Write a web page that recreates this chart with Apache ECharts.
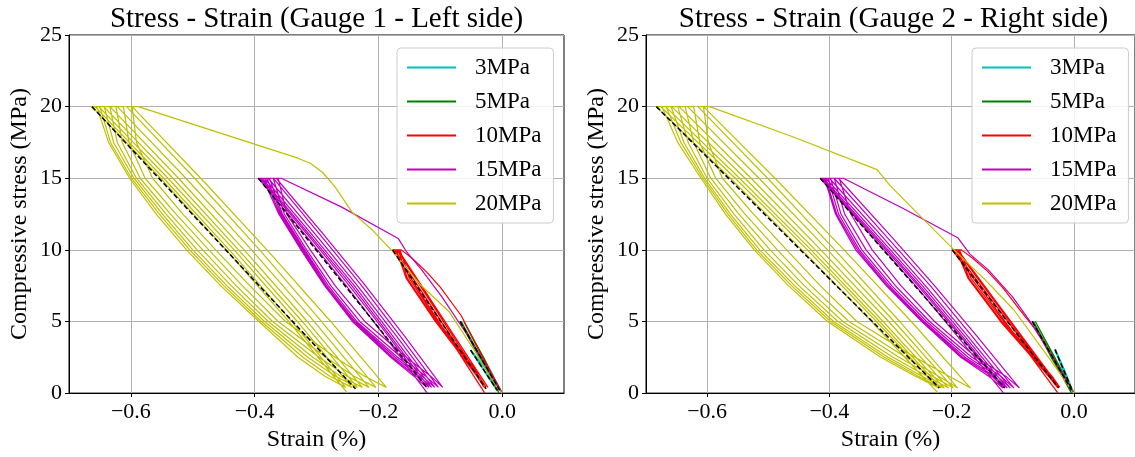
<!DOCTYPE html>
<html><head><meta charset="utf-8">
<script src="https://cdn.jsdelivr.net/npm/echarts@6/dist/echarts.min.js"></script>
<style>html,body{margin:0;padding:0;background:#fff}#c{width:1135px;height:457px}</style>
</head><body><div id="c"></div><script>
// ---------- data: [strain %, stress MPa] ----------
const seriesNames = ['3MPa','5MPa','10MPa','15MPa','20MPa'];
const xTickValues = [-0.6,-0.4,-0.2,0.0];
const titles = ['Stress - Strain (Gauge 1 - Left side)','Stress - Strain (Gauge 2 - Right side)'];

// Gauge 1 (left)
const g1_3 = [[0,0],[-0.025,1.6],[-0.050,3.0],[-0.008,0.25],[-0.030,1.7],[-0.051,3.0],[-0.009,0.2]];
const g1_5 = [[0,0],[-0.030,2.5],[-0.062,5.0],[-0.004,0.2],[-0.035,2.5],[-0.066,5.0],[-0.005,0.2],[-0.037,2.5],[-0.068,5.0],[-0.005,0.0]];
const g1_10 = [[0,0],[-0.030,2.4],[-0.066,5.4],[-0.100,7.4],[-0.123,8.5],[-0.145,9.4],[-0.163,10.0],[-0.168,10.0],
  [-0.023,0.4],[-0.035,1.2],[-0.104,5.0],[-0.150,8.0],[-0.165,10.0],[-0.170,10.0],
  [-0.026,0.4],[-0.038,1.2],[-0.106,5.0],[-0.153,8.0],[-0.168,10.0],[-0.174,10.0],
  [-0.029,0.4],[-0.041,1.2],[-0.108,5.0],[-0.155,8.0],[-0.171,10.0],[-0.177,10.0],
  [-0.028,0.0]];
const g1_15 = [[0,0],[-0.030,2.2],[-0.060,4.3],[-0.097,6.7],[-0.130,8.6],[-0.155,9.9],[-0.168,10.8],[-0.260,13.0],[-0.357,15.0],[-0.365,15.0],
  [-0.287,11.0],[-0.221,7.5],[-0.158,4.0],[-0.096,0.4],[-0.116,1.2],[-0.155,2.5],[-0.222,5.0],[-0.270,7.5],[-0.310,10.0],[-0.348,12.5],[-0.362,15.0],[-0.370,15.0],
  [-0.293,11.0],[-0.227,7.5],[-0.165,4.0],[-0.103,0.4],[-0.124,1.2],[-0.163,2.5],[-0.230,5.0],[-0.277,7.5],[-0.316,10.0],[-0.352,12.5],[-0.370,15.0],[-0.378,15.0],
  [-0.300,11.0],[-0.234,7.5],[-0.171,4.0],[-0.109,0.4],[-0.130,1.2],[-0.169,2.5],[-0.235,5.0],[-0.281,7.5],[-0.319,10.0],[-0.355,12.5],[-0.376,15.0],[-0.384,15.0],
  [-0.306,11.0],[-0.239,7.5],[-0.177,4.0],[-0.114,0.4],[-0.135,1.2],[-0.173,2.5],[-0.238,5.0],[-0.284,7.5],[-0.321,10.0],[-0.357,12.5],[-0.380,15.0],[-0.388,15.0],
  [-0.310,11.0],[-0.243,7.5],[-0.181,4.0],[-0.118,0.4],[-0.139,1.2],[-0.177,2.5],[-0.240,5.0],[-0.286,7.5],[-0.323,10.0],[-0.359,12.5],[-0.384,15.0],[-0.391,15.0],
  [-0.313,11.0],[-0.247,7.5],[-0.184,4.0],[-0.122,0.4],[-0.143,1.2],[-0.180,2.5],[-0.242,5.0],[-0.287,7.5],[-0.325,10.0],[-0.361,12.5],[-0.387,15.0],[-0.394,15.0],
  [-0.317,11.0],[-0.252,7.5],[-0.190,4.0],[-0.121,0.0]];
const g1_20 = [[0,0],[-0.010,0.5],[-0.045,3.0],[-0.086,5.7],[-0.133,7.6],[-0.177,9.9],[-0.210,11.4],[-0.242,12.6],[-0.270,14.4],[-0.290,15.4],[-0.310,16.05],[-0.330,16.4],[-0.588,20.0],[-0.598,20.0],
  [-0.487,15.0],[-0.380,10.0],[-0.277,5.0],[-0.187,0.4],[-0.223,1.2],[-0.270,2.5],[-0.350,5.0],[-0.408,7.5],[-0.463,10.0],[-0.516,12.5],[-0.565,15.0],[-0.591,17.5],[-0.598,20.0],[-0.607,20.0],
  [-0.497,15.0],[-0.392,10.0],[-0.292,5.0],[-0.204,0.4],[-0.240,1.2],[-0.285,2.5],[-0.362,5.0],[-0.420,7.5],[-0.474,10.0],[-0.527,12.5],[-0.577,15.0],[-0.603,17.5],[-0.612,20.0],[-0.622,20.0],
  [-0.511,15.0],[-0.405,10.0],[-0.304,5.0],[-0.215,0.4],[-0.251,1.2],[-0.296,2.5],[-0.371,5.0],[-0.430,7.5],[-0.484,10.0],[-0.536,12.5],[-0.585,15.0],[-0.614,17.5],[-0.624,20.0],[-0.634,20.0],
  [-0.523,15.0],[-0.417,10.0],[-0.315,5.0],[-0.226,0.4],[-0.262,1.2],[-0.306,2.5],[-0.378,5.0],[-0.438,7.5],[-0.493,10.0],[-0.543,12.5],[-0.591,15.0],[-0.622,17.5],[-0.634,20.0],[-0.644,20.0],
  [-0.532,15.0],[-0.426,10.0],[-0.323,5.0],[-0.234,0.4],[-0.270,1.2],[-0.314,2.5],[-0.384,5.0],[-0.445,7.5],[-0.500,10.0],[-0.549,12.5],[-0.595,15.0],[-0.628,17.5],[-0.643,20.0],[-0.652,20.0],
  [-0.540,15.0],[-0.433,10.0],[-0.331,5.0],[-0.243,0.4],[-0.279,1.2],[-0.322,2.5],[-0.389,5.0],[-0.450,7.5],[-0.505,10.0],[-0.554,12.5],[-0.599,15.0],[-0.633,17.5],[-0.650,20.0],[-0.658,20.0],
  [-0.547,15.0],[-0.441,10.0],[-0.340,5.0],[-0.253,0.4],[-0.287,1.2],[-0.330,2.5],[-0.393,5.0],[-0.455,7.5],[-0.510,10.0],[-0.559,12.5],[-0.602,15.0],[-0.636,17.5],[-0.655,20.0],[-0.663,20.0],
  [-0.552,15.0],[-0.446,10.0],[-0.345,5.0],[-0.250,0.0]];
const g1_fit3 = [[-0.051,3.0],[-0.008,0.2]];
const g1_fit5 = [[-0.068,5.0],[-0.004,0.2]];
const g1_fit10 = [[-0.177,10.0],[-0.026,0.3]];
const g1_fit15 = [[-0.394,15.0],[-0.120,0.3]];
const g1_fit20 = [[-0.663,20.0],[-0.237,0.3]];

// Gauge 2 (right)
const g2_3 = [[0,0],[-0.015,1.6],[-0.030,3.05],[-0.022,2.2],[-0.002,0.15],[-0.017,1.5],[-0.031,3.0],[-0.003,0.12]];
const g2_5 = [[0,0],[-0.030,2.4],[-0.063,5.0],[-0.004,0.2],[-0.034,2.4],[-0.066,5.0],[-0.005,0.15],[-0.036,2.4],[-0.068,5.0],[-0.004,0.0]];
const g2_10 = [[0,0],[-0.030,2.2],[-0.060,4.3],[-0.090,5.9],[-0.115,7.3],[-0.141,8.5],[-0.165,9.4],[-0.184,10.0],[-0.190,10.0],
  [-0.023,0.4],[-0.036,1.2],[-0.115,5.0],[-0.168,8.0],[-0.187,10.0],[-0.192,10.0],
  [-0.025,0.4],[-0.039,1.2],[-0.118,5.0],[-0.171,8.0],[-0.190,10.0],[-0.196,10.0],
  [-0.027,0.4],[-0.042,1.2],[-0.120,5.0],[-0.173,8.0],[-0.193,10.0],[-0.199,10.0],
  [-0.026,0.0]];
const g2_15 = [[0,0],[-0.035,2.5],[-0.070,4.9],[-0.100,6.7],[-0.140,8.6],[-0.170,9.7],[-0.190,10.85],[-0.280,12.9],[-0.377,15.0],[-0.385,15.0],
  [-0.300,11.0],[-0.228,7.5],[-0.159,4.0],[-0.089,0.35],[-0.112,1.2],[-0.160,2.5],[-0.228,5.0],[-0.283,7.5],[-0.330,10.0],[-0.365,12.5],[-0.384,15.0],[-0.392,15.0],
  [-0.308,11.0],[-0.235,7.5],[-0.167,4.0],[-0.098,0.35],[-0.120,1.2],[-0.167,2.5],[-0.236,5.0],[-0.292,7.5],[-0.340,10.0],[-0.375,12.5],[-0.392,15.0],[-0.400,15.0],
  [-0.315,11.0],[-0.243,7.5],[-0.174,4.0],[-0.104,0.35],[-0.126,1.2],[-0.173,2.5],[-0.241,5.0],[-0.298,7.5],[-0.347,10.0],[-0.381,12.5],[-0.398,15.0],[-0.406,15.0],
  [-0.321,11.0],[-0.248,7.5],[-0.179,4.0],[-0.109,0.35],[-0.131,1.2],[-0.178,2.5],[-0.245,5.0],[-0.302,7.5],[-0.351,10.0],[-0.385,12.5],[-0.402,15.0],[-0.410,15.0],
  [-0.325,11.0],[-0.252,7.5],[-0.183,4.0],[-0.113,0.35],[-0.135,1.2],[-0.182,2.5],[-0.247,5.0],[-0.305,7.5],[-0.354,10.0],[-0.388,12.5],[-0.406,15.0],[-0.413,15.0],
  [-0.328,11.0],[-0.255,7.5],[-0.186,4.0],[-0.116,0.35],[-0.140,1.2],[-0.185,2.5],[-0.249,5.0],[-0.307,7.5],[-0.357,10.0],[-0.390,12.5],[-0.408,15.0],[-0.415,15.0],
  [-0.331,11.0],[-0.259,7.5],[-0.191,4.0],[-0.115,0.0]];
const g2_20 = [[0,0],[-0.040,2.4],[-0.098,5.8],[-0.145,7.9],[-0.196,10.0],[-0.250,12.3],[-0.301,14.5],[-0.322,15.6],[-0.460,17.9],[-0.596,20.0],[-0.606,20.0],
  [-0.489,15.0],[-0.376,10.0],[-0.266,5.0],[-0.169,0.35],[-0.205,1.2],[-0.260,2.5],[-0.355,5.0],[-0.415,7.5],[-0.470,10.0],[-0.524,12.5],[-0.575,15.0],[-0.598,17.5],[-0.606,20.0],[-0.615,20.0],
  [-0.501,15.0],[-0.391,10.0],[-0.285,5.0],[-0.190,0.35],[-0.222,1.2],[-0.275,2.5],[-0.368,5.0],[-0.430,7.5],[-0.485,10.0],[-0.538,12.5],[-0.586,15.0],[-0.612,17.5],[-0.622,20.0],[-0.632,20.0],
  [-0.515,15.0],[-0.403,10.0],[-0.294,5.0],[-0.197,0.35],[-0.232,1.2],[-0.286,2.5],[-0.378,5.0],[-0.441,7.5],[-0.497,10.0],[-0.548,12.5],[-0.594,15.0],[-0.622,17.5],[-0.636,20.0],[-0.646,20.0],
  [-0.528,15.0],[-0.414,10.0],[-0.303,5.0],[-0.205,0.35],[-0.241,1.2],[-0.296,2.5],[-0.386,5.0],[-0.450,7.5],[-0.507,10.0],[-0.556,12.5],[-0.600,15.0],[-0.631,17.5],[-0.648,20.0],[-0.658,20.0],
  [-0.538,15.0],[-0.423,10.0],[-0.312,5.0],[-0.212,0.35],[-0.249,1.2],[-0.304,2.5],[-0.393,5.0],[-0.457,7.5],[-0.514,10.0],[-0.562,12.5],[-0.604,15.0],[-0.638,17.5],[-0.659,20.0],[-0.668,20.0],
  [-0.547,15.0],[-0.430,10.0],[-0.318,5.0],[-0.217,0.35],[-0.255,1.2],[-0.310,2.5],[-0.398,5.0],[-0.462,7.5],[-0.519,10.0],[-0.566,12.5],[-0.607,15.0],[-0.643,17.5],[-0.667,20.0],[-0.676,20.0],
  [-0.554,15.0],[-0.436,10.0],[-0.323,5.0],[-0.221,0.35],[-0.260,1.2],[-0.316,2.5],[-0.403,5.0],[-0.467,7.5],[-0.523,10.0],[-0.570,12.5],[-0.610,15.0],[-0.648,17.5],[-0.674,20.0],[-0.683,20.0],
  [-0.562,15.0],[-0.445,10.0],[-0.331,5.0],[-0.222,0.0]];
const g2_fit3 = [[-0.031,3.05],[-0.002,0.12]];
const g2_fit5 = [[-0.068,5.0],[-0.004,0.2]];
const g2_fit10 = [[-0.199,10.0],[-0.025,0.35]];
const g2_fit15 = [[-0.415,15.0],[-0.113,0.35]];
const g2_fit20 = [[-0.683,20.0],[-0.220,0.35]];

// ---------- styling / layout ----------
const FONT = 'Liberation Serif';
const colors = ['#00bfbf','#008000','#ff0000','#bf00bf','#bfbf00'];
const loops = [[g1_3,g1_5,g1_10,g1_15,g1_20],[g2_3,g2_5,g2_10,g2_15,g2_20]];
const fits = [[g1_fit3,g1_fit5,g1_fit10,g1_fit15,g1_fit20],[g2_fit3,g2_fit5,g2_fit10,g2_fit15,g2_fit20]];
const grids = [{left:69, right:571}, {left:646, right:-6}];
const legendLeft = [397, 972];

function fmtX(v){
  const s = Math.abs(v).toFixed(1);
  return v < -1e-9 ? '\u2212' + s : s;
}
const tickTxt = {fontFamily:FONT, fontSize:22, color:'#000'};
const nameTxt = {fontFamily:FONT, fontSize:24, color:'#000'};

const option = {
  animation:false,
  backgroundColor:'#fff',
  title: titles.map((t,i)=>({
    text:t, left:(grids[i].left + (1135-grids[i].right))/2, top:5, textAlign:'center', padding:0,
    textStyle:{fontFamily:FONT, fontWeight:'normal', fontSize:29, color:'#000'}
  })),
  legend: [0,1].map(i=>({
    data:seriesNames, orient:'vertical', left:legendLeft[i], top:48,
    itemWidth:49, itemHeight:14, itemGap:11, padding:[8,12,8,9],
    backgroundColor:'rgba(255,255,255,0.85)', borderColor:'#cccccc', borderWidth:1, borderRadius:4,
    selectedMode:false,
    itemStyle:{opacity:0},
    textStyle:{fontFamily:FONT, fontSize:23, color:'#000', padding:[0,0,0,14]}
  })),
  grid: grids.map(g=>({left:g.left, right:g.right, top:35, bottom:60, show:true, borderColor:'#000', borderWidth:1})),
  xAxis: [0,1].map(i=>({
    gridIndex:i, type:'value', min:-0.7, max:0.1, splitNumber:4,
    axisLine:{show:true, onZero:false, lineStyle:{color:'#000', width:1}},
    axisTick:{show:true, length:4, lineStyle:{color:'#000'}, customValues:xTickValues},
    axisLabel:Object.assign({customValues:xTickValues, formatter:fmtX, margin:8}, tickTxt),
    splitLine:{show:true, lineStyle:{color:'#b0b0b0', width:1}},
    name:'Strain (%)', nameLocation:'middle', nameGap:33, nameTextStyle:nameTxt
  })),
  yAxis: [0,1].map(i=>({
    gridIndex:i, type:'value', min:0, max:25, interval:5,
    axisLine:{show:true, onZero:false, lineStyle:{color:'#000', width:1}},
    axisTick:{show:true, length:4, lineStyle:{color:'#000'}},
    axisLabel:Object.assign({margin:7}, tickTxt),
    splitLine:{show:true, lineStyle:{color:'#b0b0b0', width:1}},
    name:'Compressive stress (MPa)', nameLocation:'middle', nameGap:37, nameTextStyle:nameTxt
  })),
  series: []
};
[0,1].forEach(p=>{
  loops[p].forEach((d,k)=>{
    option.series.push({type:'line', name:seriesNames[k], xAxisIndex:p, yAxisIndex:p, data:d,
      symbol:'none', clip:true, lineStyle:{color:colors[k], width:1.2}, itemStyle:{color:colors[k]}, z:2});
  });
  fits[p].forEach((d,k)=>{
    option.series.push({type:'line', name:'fit', xAxisIndex:p, yAxisIndex:p, data:d,
      symbol:'none', clip:true, lineStyle:{color:'#000', width:1.5, type:[5,2.5]}, z:3});
  });
});
const chart = echarts.init(document.getElementById('c'), null, {renderer:'canvas'});
chart.setOption(option);
</script></body></html>
